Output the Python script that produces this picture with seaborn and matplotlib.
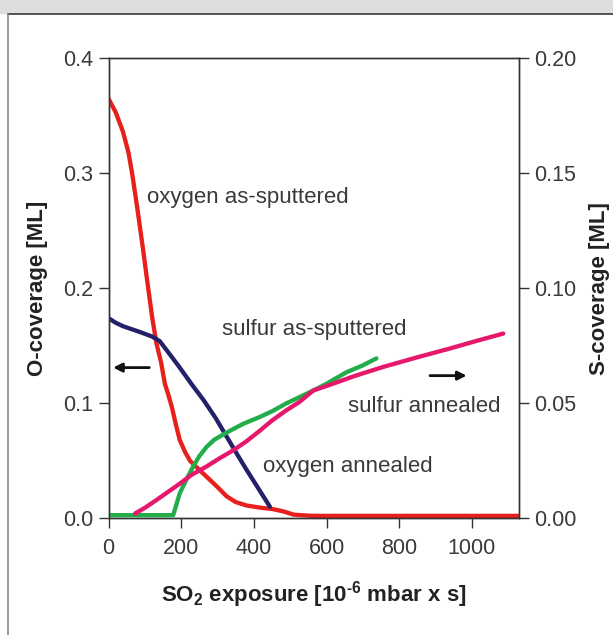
import matplotlib
matplotlib.use('Agg')
import matplotlib.pyplot as plt
import seaborn as sns
from matplotlib.patches import Rectangle
from matplotlib.lines import Line2D
from matplotlib.ticker import FormatStrFormatter

# oxygen coverage (left axis, ML)
ox_sput_x = [0, 20, 40, 55, 65, 80, 95, 105, 120, 132, 145, 155, 165, 174, 185, 196, 210,
             224, 250, 270, 300, 325, 350, 380, 420, 450, 480, 510, 560, 1130]
ox_sput_y = [0.365, 0.353, 0.336, 0.318, 0.300, 0.268, 0.234, 0.210, 0.175, 0.152, 0.135,
             0.117, 0.107, 0.097, 0.082, 0.068, 0.058, 0.050, 0.042, 0.036, 0.027, 0.019,
             0.014, 0.011, 0.009, 0.008, 0.006, 0.003, 0.002, 0.002]

ox_ann_x = [0, 20, 40, 86, 120, 141, 170, 196, 230, 261, 295, 325, 355, 380, 410, 444]
ox_ann_y = [0.174, 0.170, 0.167, 0.162, 0.158, 0.154, 0.142, 0.131, 0.116, 0.103, 0.087,
            0.071, 0.055, 0.042, 0.027, 0.010]

# sulfur coverage (right axis, ML)
s_sput_x = [0, 178, 196, 215, 233, 250, 270, 290, 306, 334, 370, 416, 450, 490, 530, 563,
            600, 655, 700, 737]
s_sput_y = [0.0013, 0.0013, 0.0108, 0.017, 0.0225, 0.027, 0.031, 0.034, 0.0355, 0.038,
            0.041, 0.044, 0.0465, 0.050, 0.053, 0.0555, 0.0585, 0.0635, 0.0665, 0.0695]

s_ann_x = [73, 100, 132, 160, 196, 230, 270, 305, 343, 380, 416, 450, 490, 525, 563, 609,
           680, 756, 850, 939, 1010, 1086]
s_ann_y = [0.002, 0.0045, 0.0079, 0.011, 0.015, 0.019, 0.0225, 0.026, 0.0295, 0.0335, 0.038,
           0.0425, 0.047, 0.0505, 0.0555, 0.058, 0.062, 0.0658, 0.070, 0.0738, 0.077, 0.0803]

sns.set_theme(style='ticks')
plt.rcParams['font.family'] = ['Liberation Sans', 'DejaVu Sans']

dark = '#333333'
fig = plt.figure(figsize=(6.13, 6.35), dpi=100)
ax = fig.add_axes([0.177, 0.184, 0.670, 0.724])
ax2 = ax.twinx()

sns.lineplot(x=ox_sput_x, y=ox_sput_y, ax=ax, color='#e8201c', lw=3.1)
sns.lineplot(x=ox_ann_x, y=ox_ann_y, ax=ax, color='#24216a', lw=3.1)
sns.lineplot(x=s_sput_x, y=s_sput_y, ax=ax2, color='#22ad4a', lw=3.1)
sns.lineplot(x=s_ann_x, y=s_ann_y, ax=ax2, color='#e6186c', lw=3.1)

ax.set_xlim(0, 1130)
ax.set_ylim(0, 0.4)
ax2.set_ylim(0, 0.2)
ax.set_xticks([0, 200, 400, 600, 800, 1000])
ax.set_yticks([0, 0.1, 0.2, 0.3, 0.4])
ax2.set_yticks([0, 0.05, 0.10, 0.15, 0.20])
ax.yaxis.set_major_formatter(FormatStrFormatter('%.1f'))
ax2.yaxis.set_major_formatter(FormatStrFormatter('%.2f'))

for a in (ax, ax2):
    a.tick_params(direction='out', length=7, width=1, color=dark, labelcolor='#3a3a3a',
                  labelsize=15.5, pad=4)
    for sp in a.spines.values():
        sp.set_color(dark)
        sp.set_linewidth(1)
ax.tick_params(axis='x', pad=7)

ax.set_xlabel('SO$_\\mathregular{2}$ exposure [10$^\\mathregular{\u20106}$ mbar x s]',
              fontsize=16, fontweight='bold', color='#222222', labelpad=15)
ax.set_ylabel('O-coverage [ML]', fontsize=16, fontweight='bold', color='#222222', labelpad=11)
ax2.set_ylabel('S-coverage [ML]', fontsize=16, fontweight='bold', color='#222222', labelpad=9)

tkw = dict(fontsize=16, color='#3a3a3a', ha='left', va='center')
ax.text(106, 0.279, 'oxygen as-sputtered', **tkw)
ax.text(312, 0.164, 'sulfur as-sputtered', **tkw)
ax.text(659, 0.097, 'sulfur annealed', **tkw)
ax.text(425, 0.045, 'oxygen annealed', **tkw)

akw = dict(arrowstyle='-|>', color='#111111', lw=2, mutation_scale=13)
ax.annotate('', xy=(5, 0.131), xytext=(120, 0.131), arrowprops=akw)
ax.annotate('', xy=(993, 0.124), xytext=(877, 0.124), arrowprops=akw)

# page frame
fig.patches.append(Rectangle((0, 1 - 13 / 635), 1, 13 / 635, transform=fig.transFigure,
                             color='#dcdddf', zorder=0))
fig.lines.append(Line2D([7.5 / 613, 1], [1 - 13.5 / 635] * 2, transform=fig.transFigure,
                        color='#3a3a3a', lw=1.2))
fig.lines.append(Line2D([7.5 / 613] * 2, [0, 1 - 13.5 / 635], transform=fig.transFigure,
                        color='#8a8a8a', lw=1.2))

fig.savefig('out.png', dpi=100)
